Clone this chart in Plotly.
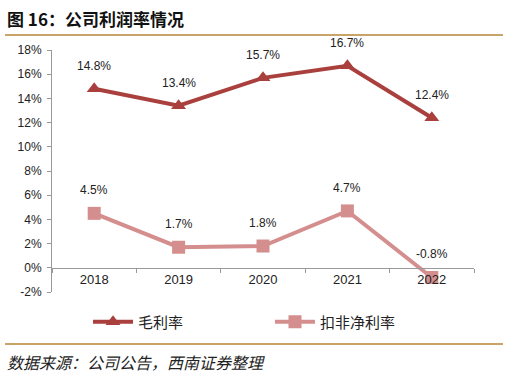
import plotly.graph_objects as go

years = ["2018", "2019", "2020", "2021", "2022"]
gross_margin = [14.8, 13.4, 15.7, 16.7, 12.4]
net_margin = [4.5, 1.7, 1.8, 4.7, -0.8]
y_ticks = [-2, 0, 2, 4, 6, 8, 10, 12, 14, 16, 18]
y_tick_labels = ["-2%", "0%", "2%", "4%", "6%", "8%", "10%", "12%", "14%", "16%", "18%"]

W, H = 508, 378
L, R, T, B = 52, 34, 50, 86
pw, ph = W - L - R, H - T - B

def px_x(p):
    return (p - L) / pw

def px_y(p):
    return (H - B - p) / ph

C1 = "#A9403D"
C2 = "#D48E8E"
FONT = "Noto Sans CJK SC, Liberation Sans, Arial"
NUMFONT = "Liberation Sans, Arial"

fig = go.Figure()
fig.add_trace(go.Scatter(
    x=years, y=gross_margin, name="毛利率", mode="lines+markers",
    line=dict(color=C1, width=4),
    marker=dict(symbol="triangle-up", size=13, color=C1),
))
fig.add_trace(go.Scatter(
    x=years, y=net_margin, name="扣非净利率", mode="lines+markers",
    line=dict(color=C2, width=4),
    marker=dict(symbol="square", size=13, color=C2),
))

annotations = []
for ys in (gross_margin, net_margin):
    for i, yv in enumerate(ys):
        annotations.append(dict(
            x=i, y=yv, xref="x", yref="y", text=f"{yv:.1f}%",
            showarrow=False, yshift=23, font=dict(size=12, color="#222", family=NUMFONT),
        ))

annotations.append(dict(
    x=px_x(5), y=px_y(18), xref="paper", yref="paper", xanchor="left", yanchor="middle",
    text="<b>图 16：公司利润率情况</b>", showarrow=False,
    font=dict(size=17, color="#111", family=FONT),
))
annotations.append(dict(
    x=px_x(5), y=px_y(362), xref="paper", yref="paper", xanchor="left", yanchor="middle",
    text="<i>数据来源：公司公告，西南证券整理</i>", showarrow=False,
    font=dict(size=16, color="#222", family=FONT),
))

shapes = [
    dict(type="line", xref="paper", yref="paper", x0=px_x(5), x1=px_x(503), y0=px_y(35), y1=px_y(35),
         line=dict(color="#C9A46A", width=2), layer="above"),
    dict(type="line", xref="paper", yref="paper", x0=px_x(5), x1=px_x(503), y0=px_y(344), y1=px_y(344),
         line=dict(color="#C9A46A", width=2), layer="above"),
]

fig.update_layout(
    width=W, height=H,
    margin=dict(l=L, r=R, t=T, b=B),
    paper_bgcolor="white", plot_bgcolor="white",
    font=dict(family=FONT, size=11, color="#222"),
    showlegend=True,
    legend=dict(
        orientation="h", x=px_x(88), y=px_y(322), xanchor="left", yanchor="middle",
        font=dict(size=15, color="#222", family=FONT),
        entrywidth=127, entrywidthmode="pixels", itemwidth=40,
    ),
    xaxis=dict(
        type="category", anchor="free", position=0.1,
        showline=True, linecolor="#999", linewidth=1,
        ticks="outside", ticklen=4, tickcolor="#999", tickson="boundaries",
        showgrid=False, zeroline=False, tickfont=dict(size=13, color="#222", family=NUMFONT),
        range=[-0.5, 4.5],
    ),
    yaxis=dict(
        range=[-2, 18], tickvals=y_ticks, ticktext=y_tick_labels,
        showline=True, linecolor="#999", linewidth=1,
        ticks="outside", ticklen=4, tickcolor="#999", ticklabelstandoff=3,
        showgrid=False, zeroline=False, tickfont=dict(size=12, color="#222", family=NUMFONT),
    ),
    annotations=annotations,
    shapes=shapes,
)

fig.write_html("out.html", config={"displayModeBar": False},
               post_script="document.body.style.margin='0';")
